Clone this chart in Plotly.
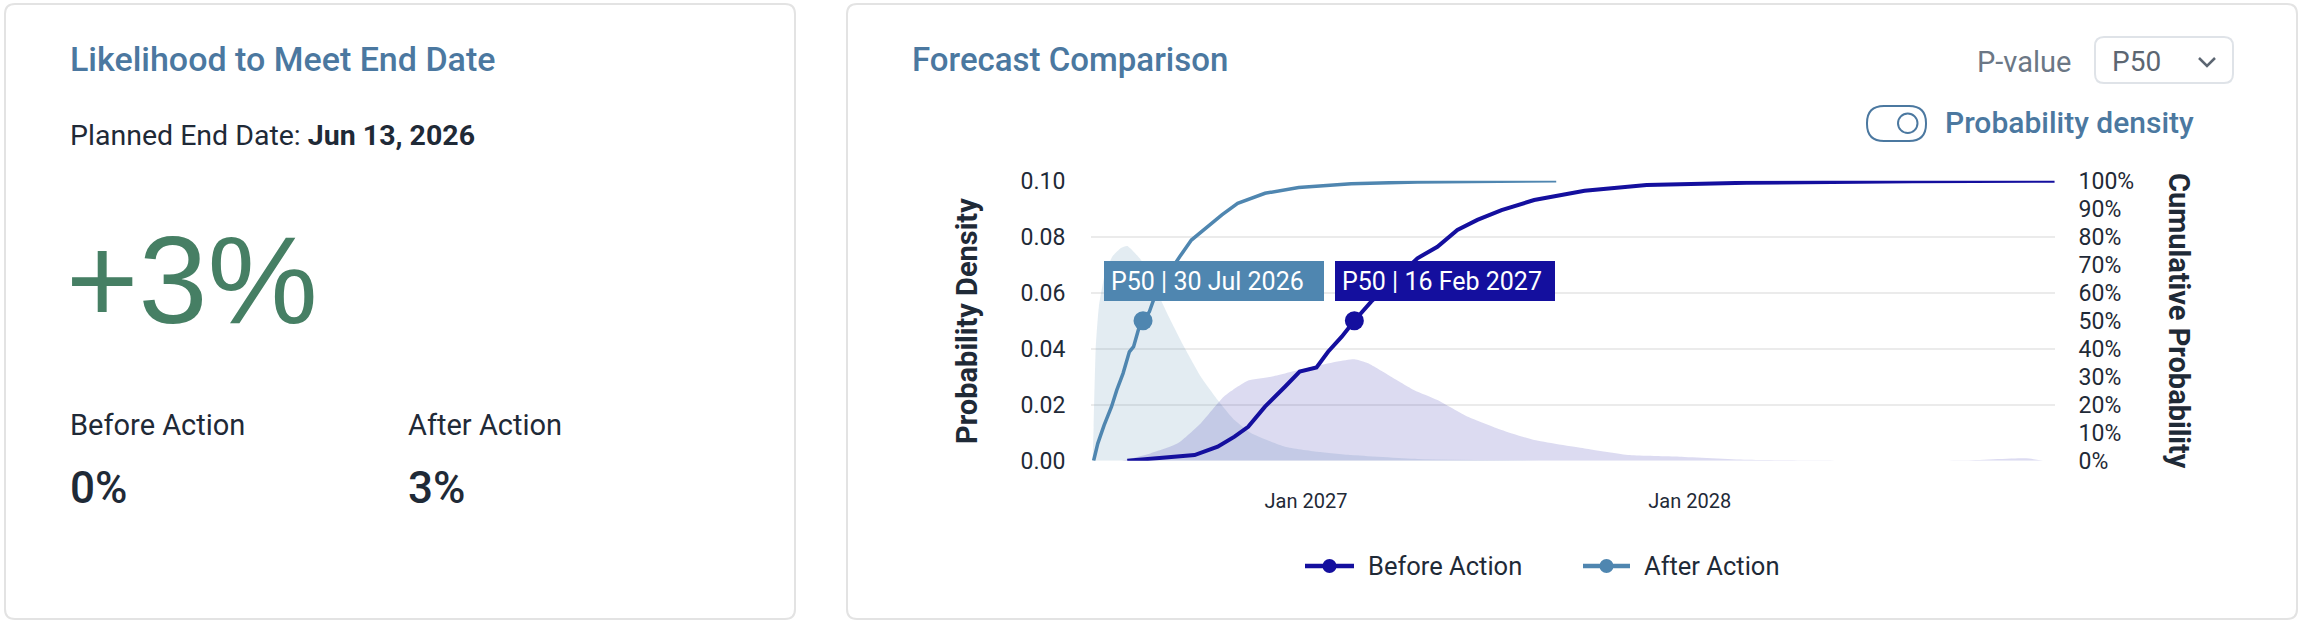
import plotly.graph_objects as go

W, H = 2300, 628

# ---------------- data ----------------
after_cum_dates = ["2026-06-13", "2026-06-17", "2026-06-23", "2026-06-30", "2026-07-05", "2026-07-11",
                   "2026-07-17", "2026-07-21", "2026-07-26", "2026-07-30", "2026-08-05", "2026-08-09",
                   "2026-08-14", "2026-08-21", "2026-08-27", "2026-09-03", "2026-09-14", "2026-09-27",
                   "2026-10-13", "2026-10-28", "2026-11-23", "2026-12-25", "2027-02-13", "2027-04-17",
                   "2027-08-27"]
after_cum_pct = [0, 6.2, 12.7, 19.3, 25.2, 31.2, 38.9, 40.7, 47.3, 50, 53.2, 57.4, 61.6, 65.7, 69.3,
                 72.9, 78.8, 83.0, 87.8, 91.9, 95.5, 97.6, 98.9, 99.5, 100]

before_cum_dates = ["2026-07-15", "2026-08-23", "2026-09-17", "2026-10-09", "2026-10-25", "2026-11-07",
                    "2026-11-23", "2026-12-12", "2026-12-26", "2027-01-11", "2027-01-22", "2027-02-04",
                    "2027-02-16", "2027-03-04", "2027-03-23", "2027-04-17", "2027-05-06", "2027-05-25",
                    "2027-06-13", "2027-07-06", "2027-08-06", "2027-09-23", "2027-11-21", "2028-02-24",
                    "2028-07-31", "2028-12-13"]
before_cum_pct = [0, 1.1, 2.0, 5.0, 8.6, 12.1, 19.3, 26.4, 31.8, 33.3, 38.9, 44.3, 50, 56.8, 63.3,
                  72.3, 76.4, 82.4, 86.0, 89.5, 93.1, 96.4, 98.5, 99.3, 99.8, 100]

after_den_dates = ["2026-06-12", "2026-06-13", "2026-06-15", "2026-06-18", "2026-06-24", "2026-07-01",
                   "2026-07-09", "2026-07-15", "2026-07-28", "2026-08-10", "2026-08-22", "2026-09-07",
                   "2026-09-23", "2026-10-09", "2026-10-25", "2026-11-10", "2026-12-12", "2027-01-12",
                   "2027-02-13", "2027-04-17", "2027-08-27"]
after_den_vals = [0, 0.012, 0.040, 0.055, 0.067, 0.073, 0.076, 0.0767, 0.0717, 0.0622, 0.0526, 0.0407,
                  0.030, 0.0217, 0.0145, 0.0098, 0.005, 0.0032, 0.002, 0.0006, 0]

before_den_dates = ["2026-07-10", "2026-08-06", "2026-09-01", "2026-09-23", "2026-10-15", "2026-11-07",
                    "2026-11-29", "2026-12-25", "2027-01-12", "2027-01-31", "2027-02-16", "2027-03-01",
                    "2027-03-23", "2027-04-14", "2027-05-06", "2027-06-04", "2027-07-06", "2027-08-06",
                    "2027-09-23", "2027-11-05", "2027-12-22", "2028-02-24", "2028-05-29", "2028-09-17",
                    "2028-11-16", "2028-12-02"]
before_den_vals = [0, 0.0026, 0.0062, 0.0134, 0.0229, 0.0286, 0.030, 0.0324, 0.0339, 0.0354, 0.0362,
                   0.0348, 0.030, 0.0252, 0.0217, 0.0157, 0.011, 0.0074, 0.0044, 0.002, 0.0014, 0.0003,
                   0.0, 0.0001, 0.0009, 0]

series_names = ["Before Action", "After Action"]
p50_dates = ["2027-02-16", "2026-07-30"]
p50_pct = [50, 50]
p50_labels = ["P50 | 16 Feb 2027", "P50 | 30 Jul 2026"]

density_ticks = [0, 0.02, 0.04, 0.06, 0.08, 0.10]
cum_ticks = [0, 10, 20, 30, 40, 50, 60, 70, 80, 90, 100]
cum_tick_text = ["0%", "10%", "20%", "30%", "40%", "50%", "60%", "70%", "80%", "90%", "100%"]
x_tick_vals = ["2027-01-01", "2028-01-01"]
x_tick_text = ["Jan 2027", "Jan 2028"]

summary_title = "Likelihood to Meet End Date"
planned_end = "Jun 13, 2026"
delta_text = "+3%"
before_likelihood = "0%"
after_likelihood = "3%"

# ---------------- styles ----------------
FONT = "Roboto, 'Noto Sans', sans-serif"
C_BEFORE = "#140f9e"
C_AFTER = "#4f86b0"
C_TITLE = "#4b78a0"
C_TEXT = "#1f2a37"
C_GREEN = "#467f64"
C_GRID = "#ebebeb"


def px(x):
    return x / W


def py(y):
    return 1 - y / H


def rrect(x0, y0, x1, y1, r):
    X0, X1, Y0, Y1 = px(x0), px(x1), py(y0), py(y1)
    rx, ry = r / W, r / H
    return (f"M{X0+rx},{Y0} L{X1-rx},{Y0} Q{X1},{Y0} {X1},{Y0-ry} L{X1},{Y1+ry} "
            f"Q{X1},{Y1} {X1-rx},{Y1} L{X0+rx},{Y1} Q{X0},{Y1} {X0},{Y1+ry} "
            f"L{X0},{Y0-ry} Q{X0},{Y0} {X0+rx},{Y0} Z")


fig = go.Figure()

# density areas
fig.add_trace(go.Scatter(x=after_den_dates, y=after_den_vals, mode="lines", fill="tozeroy",
                         fillcolor="rgba(79,134,176,0.16)", line=dict(width=0, shape="spline", smoothing=0.5),
                         yaxis="y", showlegend=False, hoverinfo="skip"))
fig.add_trace(go.Scatter(x=before_den_dates, y=before_den_vals, mode="lines", fill="tozeroy",
                         fillcolor="rgba(20,15,158,0.15)", line=dict(width=0, shape="spline", smoothing=0.5),
                         yaxis="y", showlegend=False, hoverinfo="skip"))

# cumulative lines
fig.add_trace(go.Scatter(x=after_cum_dates, y=after_cum_pct, mode="lines", yaxis="y2", name=series_names[1],
                         line=dict(color=C_AFTER, width=3.5), showlegend=False, cliponaxis=False))
fig.add_trace(go.Scatter(x=before_cum_dates, y=before_cum_pct, mode="lines", yaxis="y2", name=series_names[0],
                         line=dict(color=C_BEFORE, width=4), showlegend=False, cliponaxis=False))

# P50 markers
fig.add_trace(go.Scatter(x=p50_dates, y=p50_pct, mode="markers", yaxis="y2",
                         marker=dict(size=19, color=[C_BEFORE, C_AFTER]), showlegend=False))

annotations = []


def text(x, y, s, size, color=C_TEXT, weight=400, family=FONT, xanchor="left", angle=0):
    annotations.append(dict(x=px(x), y=py(y), xref="paper", yref="paper", text=s, showarrow=False,
                            xanchor=xanchor, yanchor="middle", textangle=angle,
                            font=dict(family=family, size=size, color=color, weight=weight)))


# left card
text(68, 59, summary_title, 34, C_TITLE, 500)
text(68, 136, f"Planned End Date: <b>{planned_end}</b>", 28.5, C_TEXT, 400)
text(64, 280, delta_text, 124, C_GREEN, 400, family="'Liberation Sans', Arial, sans-serif")
text(68, 425, series_names[0], 29, C_TEXT, 400)
text(406, 425, series_names[1], 29, C_TEXT, 400)
text(68, 488, before_likelihood, 44, C_TEXT, 500)
text(406, 488, after_likelihood, 44, C_TEXT, 500)

# right card header
text(910, 60, "Forecast Comparison", 33, C_TITLE, 500)
text(1975, 62, "P-value", 29, "#6b7785", 400)
text(2110, 62, "P50", 28, "#5c6672", 400)
text(1943, 122, "Probability density", 30, C_TITLE, 500)

# axis titles
text(967, 321, "Probability Density", 29, C_TEXT, 700, xanchor="center", angle=-90)
text(2179, 321, "Cumulative Probability", 29, C_TEXT, 700, xanchor="center", angle=90)

# P50 labels
for (x0, lab, col) in [(1335, p50_labels[0], C_BEFORE), (1104, p50_labels[1], C_AFTER)]:
    annotations.append(dict(x=px(x0), y=py(261), xref="paper", yref="paper", text=lab, showarrow=False,
                            xanchor="left", yanchor="top", align="left", width=206, height=26,
                            borderpad=7, bgcolor=col, bordercolor=col, borderwidth=0,
                            font=dict(family=FONT, size=25, color="white")))

shapes = [
    dict(type="path", path=rrect(5, 4, 795, 619, 10), xref="paper", yref="paper",
         line=dict(color="#e3e3e3", width=2), fillcolor="white", layer="below"),
    dict(type="path", path=rrect(847, 4, 2297, 619, 10), xref="paper", yref="paper",
         line=dict(color="#e3e3e3", width=2), fillcolor="white", layer="below"),
    # dropdown
    dict(type="path", path=rrect(2095, 37, 2233, 83, 9), xref="paper", yref="paper",
         line=dict(color="#dfe3e8", width=2), fillcolor="white", layer="below"),
    dict(type="path", path=f"M{px(2199)},{py(58)} L{px(2207)},{py(66)} L{px(2215)},{py(58)}",
         xref="paper", yref="paper", line=dict(color="#5c6672", width=2.5)),
    # toggle
    dict(type="path", path=rrect(1867, 106, 1926, 141, 17), xref="paper", yref="paper",
         line=dict(color=C_TITLE, width=2), fillcolor="white"),
    dict(type="circle", x0=px(1898), x1=px(1917.5), y0=py(113.5), y1=py(133), xref="paper", yref="paper",
         line=dict(color=C_TITLE, width=2), fillcolor="white"),
]

# legend (drawn as line + dot + label)
for (lx0, lx1, tx, name, col) in [(1305, 1354, 1366, series_names[0], C_BEFORE),
                                  (1583, 1630, 1642, series_names[1], C_AFTER)]:
    shapes.append(dict(type="line", x0=px(lx0), x1=px(lx1), y0=py(566), y1=py(566), xref="paper",
                       yref="paper", line=dict(color=col, width=4.5)))
    cx = (lx0 + lx1) / 2
    shapes.append(dict(type="circle", x0=px(cx - 7), x1=px(cx + 7), y0=py(559), y1=py(573), xref="paper",
                       yref="paper", line=dict(color=col, width=0), fillcolor=col))
    text(tx, 566, name, 25.5, C_TEXT, 400)

fig.update_layout(
    width=W, height=H, margin=dict(l=0, r=0, t=0, b=0, autoexpand=False),
    paper_bgcolor="white", plot_bgcolor="rgba(0,0,0,0)",
    font=dict(family=FONT, color=C_TEXT),
    showlegend=False,
    xaxis=dict(domain=[px(1091), px(2055)], type="date", automargin=False,
               range=["2026-06-10 12:00", "2028-12-13 10:00"],
               tickvals=x_tick_vals, ticktext=x_tick_text, showgrid=False, zeroline=False,
               showline=False, ticks="outside", ticklen=22, tickcolor="rgba(0,0,0,0)",
               tickfont=dict(size=20, color=C_TEXT)),
    yaxis=dict(domain=[1 - 460.7 / H, 1 - 180.7 / H], range=[0, 0.1], tickvals=density_ticks,
               tickformat=".2f", showgrid=True, gridcolor=C_GRID, gridwidth=2, zeroline=False,
               automargin=False, showline=False, ticks="outside", ticklen=20, tickcolor="rgba(0,0,0,0)",
               tickfont=dict(size=23, color=C_TEXT)),
    yaxis2=dict(overlaying="y", side="right", anchor="x", range=[0, 100], tickvals=cum_ticks,
                ticktext=cum_tick_text, showgrid=False, zeroline=False, showline=False, ticks="outside",
                automargin=False, ticklen=18, tickcolor="rgba(0,0,0,0)", tickfont=dict(size=23, color=C_TEXT)),
    annotations=annotations,
    shapes=shapes,
    hovermode=False,
)

fig.write_html("out.html")
